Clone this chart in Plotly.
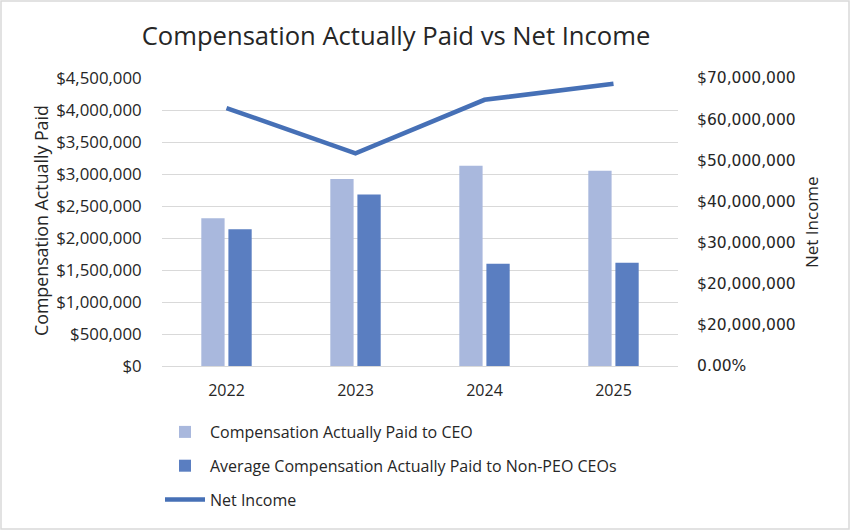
import plotly.graph_objects as go

years = ["2022", "2023", "2024", "2025"]
cap_ceo = [2310000, 2920000, 3130000, 3050000]
cap_non_peo = [2135000, 2680000, 1597000, 1613000]
net_income = [62700000, 51700000, 64700000, 68600000]

left_tickvals = [0, 500000, 1000000, 1500000, 2000000, 2500000, 3000000, 3500000, 4000000, 4500000]
right_tickvals = [0, 10000000, 20000000, 30000000, 40000000, 50000000, 60000000, 70000000]
right_ticktext = ["0.00%", "$20,000,000", "$20,000,000", "$30,000,000", "$40,000,000",
                  "$50,000,000", "$60,000,000", "$70,000,000"]

FONT = "Open Sans, Noto Sans, sans-serif"
TXT = "#262626"

fig = go.Figure()
fig.add_trace(go.Bar(x=years, y=cap_ceo, name="Compensation Actually Paid to CEO",
                     marker=dict(color="#A9B8DD", line=dict(width=0)), legendgroup="a"))
fig.add_trace(go.Bar(x=years, y=cap_non_peo, name="Average Compensation Actually Paid to Non-PEO CEOs",
                     marker=dict(color="#5A7EC1", line=dict(width=0)), legendgroup="b"))
fig.add_trace(go.Scatter(x=years, y=net_income, name="Net Income", mode="lines",
                         line=dict(color="#4670B6", width=4.5), yaxis="y2", legendgroup="c"))

W, H = 850, 530
L, R, T, B = 162, 172, 78, 164
pw, ph = W - L - R, H - T - B

fig.update_layout(
    width=W, height=H,
    margin=dict(l=L, r=R, t=T, b=B),
    paper_bgcolor="white", plot_bgcolor="white",
    font=dict(family=FONT, size=16, color=TXT),
    title=dict(text="Compensation Actually Paid vs Net Income", x=(396) / W, xanchor="center",
               y=1 - 36 / H, yanchor="middle", font=dict(size=25.6, color=TXT)),
    barmode="group", bargap=0.58, bargroupgap=0.14,
    showlegend=True,
    legend=dict(x=(160 - L) / pw, y=(T + ph - 415) / ph * 1.0, xanchor="left", yanchor="top",
                orientation="v", tracegroupgap=10, font=dict(size=16, color=TXT),
                itemwidth=40, bgcolor="rgba(0,0,0,0)"),
    xaxis=dict(type="category", showgrid=False, showline=True, linecolor="#D9D9D9", linewidth=1,
               ticks="", tickfont=dict(size=16, color=TXT), ticklabelstandoff=10),
    yaxis=dict(range=[0, 4500000], tickvals=left_tickvals, tickformat="$,.0f",
               showgrid=True, gridcolor="#D9D9D9", gridwidth=1, zeroline=False,
               ticks="outside", ticklen=16, tickcolor="rgba(0,0,0,0)",
               tickfont=dict(size=16.8, color=TXT)),
    yaxis2=dict(range=[0, 70000000], tickvals=right_tickvals, ticktext=right_ticktext,
                overlaying="y", side="right", showgrid=False, zeroline=False,
                ticks="outside", ticklen=15, tickcolor="rgba(0,0,0,0)",
                tickfont=dict(family="DejaVu Sans, Verdana, sans-serif", size=15.5, color=TXT)),
)

fig.add_annotation(text="Compensation Actually Paid", xref="paper", yref="paper",
                   x=(41 - L) / pw, y=(T + ph - 221) / ph, textangle=-90,
                   showarrow=False, font=dict(size=17.8, color=TXT), xanchor="center", yanchor="middle")
fig.add_annotation(text="Net Income", xref="paper", yref="paper",
                   x=(811 - L) / pw, y=(T + ph - 222) / ph, textangle=-90,
                   showarrow=False, font=dict(size=17, color=TXT), xanchor="center", yanchor="middle")

fig.add_shape(type="rect", xref="paper", yref="paper",
              x0=(1 - L) / pw, x1=(W - 1 - L) / pw,
              y0=(T + ph - (H - 1)) / ph, y1=(T + ph - 1) / ph,
              line=dict(color="#D9D9D9", width=1.5), fillcolor="rgba(0,0,0,0)", layer="below")

fig.write_html("out.html")
